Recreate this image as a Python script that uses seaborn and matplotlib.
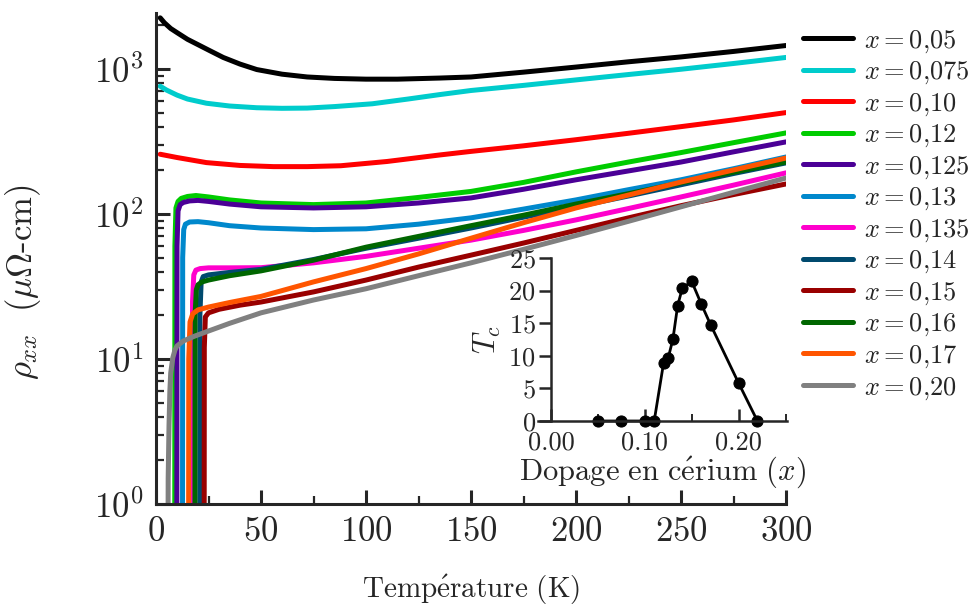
import numpy as np
import pandas as pd
import matplotlib
matplotlib.use("Agg")
import matplotlib.pyplot as plt
import seaborn as sns
from matplotlib.ticker import MultipleLocator, LogLocator, NullFormatter, FormatStrFormatter

# ---------------- data ----------------
dopings = ["0,05", "0,075", "0,10", "0,12", "0,125", "0,13", "0,135", "0,14", "0,15", "0,16", "0,17", "0,20"]
colors = ["#000000", "#00CCCC", "#FF0000", "#00CC00", "#4B0096", "#0088CC",
          "#FF00CC", "#004A6E", "#990000", "#006600", "#FF5500", "#808080"]

T_005 = [2, 4, 7, 10, 15, 20, 25, 32, 40, 48, 60, 72, 85, 100, 115, 135, 150, 175, 200, 225, 250, 275, 300]
R_005 = [2250, 2080, 1900, 1780, 1600, 1470, 1350, 1200, 1080, 990, 920, 880, 860, 850, 850, 865, 880, 950, 1030, 1120, 1210, 1320, 1450]

T_0075 = [2, 5, 10, 15, 24, 35, 48, 60, 72, 85, 103, 120, 135, 150, 175, 200, 225, 250, 275, 300]
R_0075 = [760, 715, 660, 620, 580, 555, 540, 535, 537, 550, 575, 620, 665, 710, 770, 840, 915, 995, 1090, 1200]

T_010 = [2, 10, 24, 40, 56, 72, 88, 110, 135, 150, 175, 200, 225, 250, 275, 300]
R_010 = [258, 245, 226, 216, 212, 212, 215, 230, 255, 270, 295, 325, 360, 400, 445, 500]

T_012 = [8.9, 9.0, 9.5, 10.5, 12, 15, 19, 25, 35, 50, 75, 100, 125, 150, 175, 200, 225, 250, 275, 300]
R_012 = [0.1, 60, 110, 122, 128, 132, 134, 131, 125, 119, 116, 119, 130, 143, 165, 195, 228, 265, 310, 362]

T_0125 = [9.9, 10.0, 10.5, 11.5, 13, 16, 20, 25, 35, 50, 75, 100, 125, 150, 175, 200, 225, 250, 275, 300]
R_0125 = [0.1, 60, 105, 116, 120, 123, 124, 122, 117, 112, 110, 112, 119, 129, 148, 172, 198, 228, 268, 314]

T_013 = [12.6, 12.7, 13.2, 14, 16, 20, 25, 35, 50, 75, 100, 125, 150, 175, 200, 225, 250, 275, 300]
R_013 = [0.1, 50, 78, 85, 88, 88.5, 87, 83, 80, 78, 79, 85, 94, 108, 125, 147, 172, 205, 247]

T_0135 = [17.3, 17.4, 18, 19, 21, 25, 35, 50, 75, 100, 125, 150, 175, 200, 225, 250, 275, 300]
R_0135 = [0.1, 25, 38, 41, 42, 42.5, 42.5, 42.6, 46, 51, 58, 66, 77, 91, 109, 131, 158, 192]

T_014 = [20.8, 20.9, 21.5, 22.5, 25, 35, 50, 75, 100, 125, 150, 175, 200, 225, 250, 275, 300]
R_014 = [0.1, 20, 34, 37, 38, 39.5, 41.5, 48.5, 58, 68, 80, 95, 112, 133, 159, 190, 225]

T_015 = [22.9, 23.0, 23.5, 25, 30, 40, 50, 75, 100, 125, 150, 175, 200, 225, 250, 275, 300]
R_015 = [0.1, 12, 19.5, 20.8, 22, 23.5, 24.7, 29, 35, 43, 52, 63, 77, 94, 114, 136, 161]

T_016 = [18.5, 18.6, 19.2, 20, 22, 25, 35, 50, 75, 100, 125, 150, 175, 200, 225, 250, 275, 300]
R_016 = [0.1, 20, 30, 32.5, 34, 35, 37.5, 40.5, 48, 59, 70, 83, 98, 117, 138, 164, 194, 228]

T_017 = [15.5, 15.6, 16.2, 17.5, 20, 25, 35, 50, 75, 100, 125, 150, 175, 200, 225, 250, 275, 300]
R_017 = [0.1, 10, 18, 20.5, 21.8, 22.8, 24.5, 27, 34, 42, 53, 68, 87, 110, 135, 166, 201, 243]

T_020 = [5.6, 5.8, 6.2, 6.6, 7, 8, 9, 10, 13, 18, 24, 35, 50, 75, 100, 125, 150, 175, 200, 225, 250, 275, 300]
R_020 = [0.1, 1.5, 3.5, 6, 8, 10.2, 11.5, 12.3, 13.3, 14.3, 15.4, 17.6, 20.8, 25.5, 30.5, 37.5, 46, 57, 71, 89, 112, 141, 177]

tc_doping = [0.05, 0.075, 0.10, 0.11, 0.12, 0.125, 0.13, 0.135, 0.14, 0.15, 0.16, 0.17, 0.20, 0.22]
tc_values = [0, 0, 0, 0, 8.9, 9.7, 12.6, 17.7, 20.4, 21.4, 18.0, 14.8, 5.8, 0]

# ---------------- style ----------------
sns.set_style("ticks")
plt.rcParams["font.family"] = ["cmr10", "DejaVu Serif"]
plt.rcParams["mathtext.fontset"] = "cm"
plt.rcParams["axes.formatter.use_mathtext"] = True
plt.rcParams["axes.unicode_minus"] = False

series_T = [T_005, T_0075, T_010, T_012, T_0125, T_013, T_0135, T_014, T_015, T_016, T_017, T_020]
series_R = [R_005, R_0075, R_010, R_012, R_0125, R_013, R_0135, R_014, R_015, R_016, R_017, R_020]
hue_order = [r"$x = " + d.replace(",", "{,}") + "$" for d in dopings]
frames = []
for lab, Ts, Rs in zip(hue_order, series_T, series_R):
    frames.append(pd.DataFrame({"T": Ts, "rho": Rs, "label": lab}))
df = pd.concat(frames, ignore_index=True)
palette = dict(zip(hue_order, colors))

fig = plt.figure(figsize=(9.72, 6.07), dpi=100)
ax = fig.add_axes([156 / 972, (607 - 504) / 607, 630 / 972, 491 / 607])

sns.lineplot(data=df, x="T", y="rho", hue="label", hue_order=hue_order, palette=palette,
             sort=False, estimator=None, units="label", lw=3.6, ax=ax, legend=True)

ax.set_yscale("log")
ax.set_xlim(0, 300)
ax.set_ylim(1, 2430)
ax.xaxis.set_major_locator(MultipleLocator(50))
ax.xaxis.set_minor_locator(MultipleLocator(25))
ax.yaxis.set_major_locator(LogLocator(base=10, numticks=10))
ax.yaxis.set_minor_locator(LogLocator(base=10, subs=np.arange(2, 10), numticks=20))
ax.yaxis.set_minor_formatter(NullFormatter())
for s in ["top", "right"]:
    ax.spines[s].set_visible(False)
for s in ["left", "bottom"]:
    ax.spines[s].set_linewidth(2.2)
ax.tick_params(which="major", direction="in", length=10, width=2.2, labelsize=25, pad=9)
ax.tick_params(which="minor", direction="in", length=5.5, width=1.6)
ax.set_xlabel(r"$\mathrm{Temp\acute{e}rature\ (K)}$", fontsize=21)
ax.xaxis.set_label_coords(0.5, -0.14)
ax.set_ylabel(r"$\rho_{xx}\ \ (\mu\Omega$-cm$)$", fontsize=25)
ax.yaxis.set_label_coords(-0.18, 0.452)

handles, labels = ax.get_legend_handles_labels()
for h in handles:
    h.set_linewidth(3.6)
ax.legend(handles, labels, loc="upper left", bbox_to_anchor=(803 / 972, 1 - 28 / 607),
          bbox_transform=fig.transFigure, frameon=False, fontsize=19, borderpad=0,
          borderaxespad=0, handlelength=1.9, handletextpad=0.4, labelspacing=0.19)

# ---------------- inset ----------------
ins = fig.add_axes([538 / 972, (607 - 421) / 607, 249 / 972, 163 / 607])
sns.lineplot(x=tc_doping, y=tc_values, color="black", lw=2, marker="o", markersize=8,
             markeredgecolor="black", ax=ins, clip_on=False, sort=False, estimator=None)
ins.set_xlim(-0.0138, 0.2515)
ins.set_ylim(0, 25)
ins.patch.set_alpha(0)
ins.spines["left"].set_position(("data", 0))
for s in ["top", "right"]:
    ins.spines[s].set_visible(False)
for s in ["left", "bottom"]:
    ins.spines[s].set_linewidth(1.8)
ins.xaxis.set_major_locator(MultipleLocator(0.1))
ins.xaxis.set_minor_locator(MultipleLocator(0.05))
ins.xaxis.set_major_formatter(FormatStrFormatter("%.2f"))
ins.yaxis.set_major_locator(MultipleLocator(5))
ins.tick_params(axis="x", which="major", direction="in", length=9, width=1.8, labelsize=19, pad=7)
ins.tick_params(axis="x", which="minor", direction="in", length=5, width=1.4)
ins.tick_params(axis="y", which="major", direction="out", length=9, width=1.8, labelsize=19, pad=2)
ins.set_xlabel(r"$\mathrm{Dopage\ en\ c\acute{e}rium}\ (x)$", fontsize=22, labelpad=0)
ins.set_ylabel(r"$T_c$", fontsize=22, labelpad=4)

fig.savefig("out.png", dpi=100)
